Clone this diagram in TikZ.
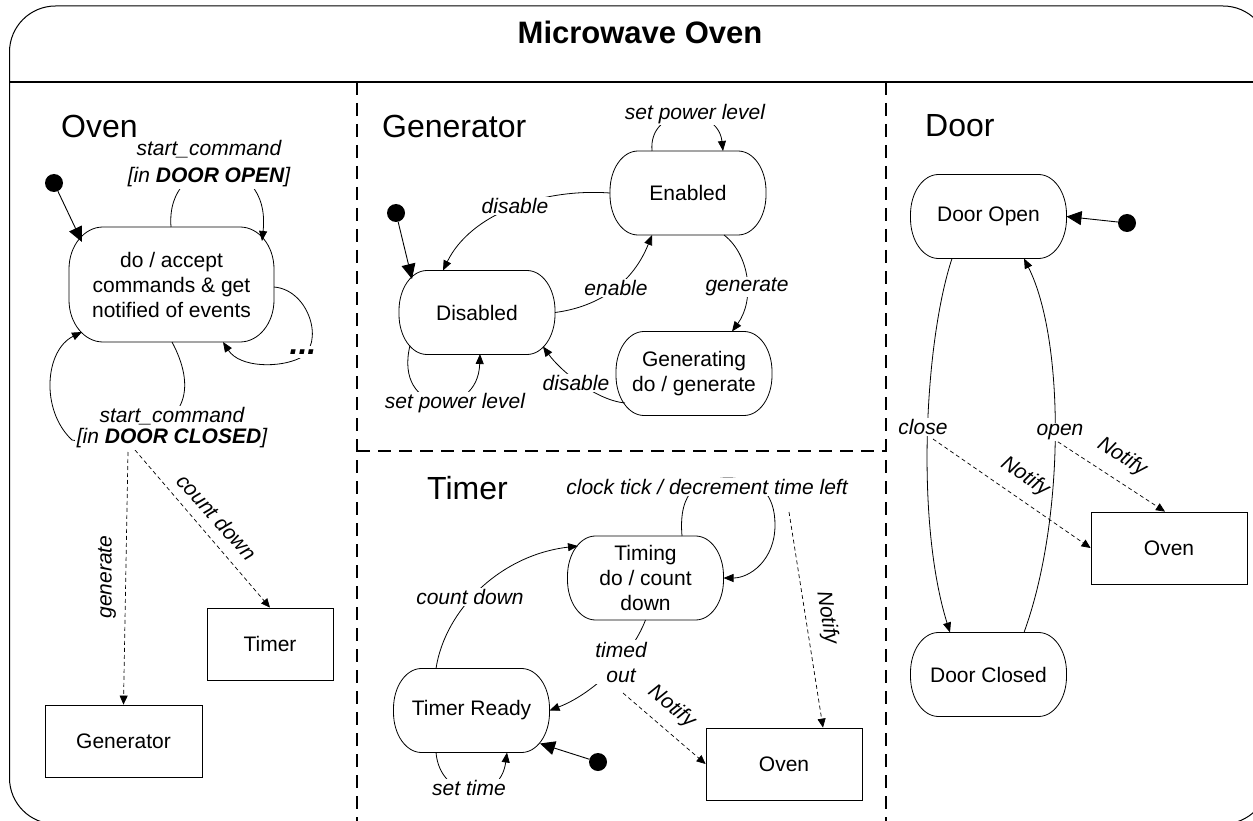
\documentclass[tikz,border=0pt]{standalone}
\usepackage{fontspec}
\setmainfont{Liberation Sans}
\usetikzlibrary{arrows.meta,calc}

% outline of a state: rectangle with elliptic corners (node, x radius, y radius)
\newcommand\capsule[3]{%
  \draw[stateline] ([xshift=#2]#1.north west) -- ([xshift=-#2]#1.north east)
    arc[start angle=90,end angle=0,x radius=#2,y radius=#3]
    -- ([yshift=#3]#1.south east)
    arc[start angle=0,end angle=-90,x radius=#2,y radius=#3]
    -- ([xshift=#2]#1.south west)
    arc[start angle=270,end angle=180,x radius=#2,y radius=#3]
    -- ([yshift=-#3]#1.north west)
    arc[start angle=180,end angle=90,x radius=#2,y radius=#3] -- cycle;}

\newcommand\txtfont{\fontsize{21}{25}\selectfont}

\tikzset{
  x=1pt, y=-1pt,
  stateline/.style={line width=0.8pt},
  stbox/.style={rectangle, minimum width=156pt, minimum height=84pt,
    inner sep=0pt, outer sep=0pt, align=center, font=\txtfont},
  objbox/.style={rectangle, draw, line width=0.8pt, minimum height=72pt,
    inner sep=0pt, font=\txtfont},
  initdot/.style={circle, fill=black, minimum size=18pt, inner sep=0pt},
  sectitle/.style={anchor=west, font=\fontsize{32}{36}\selectfont, inner sep=0pt},
  trans/.style={line width=0.8pt, -{Triangle[length=10pt,width=8pt]}},
  initarrow/.style={line width=0.9pt, -{Triangle[length=15pt,width=14pt]}},
  msg/.style={line width=0.7pt, dash pattern=on 4pt off 3pt,
    -{Triangle[length=9pt,width=8pt]}},
  lbl/.style={font=\txtfont\itshape, fill=white, inner sep=1.5pt, align=center},
  sepline/.style={line width=1.6pt, dash pattern=on 13pt off 8pt}
}

\begin{document}
\begin{tikzpicture}
\useasboundingbox (0,0) rectangle (1253,821);

% frame, header and region separators
\draw[line width=1pt, rounded corners=46pt] (9.5,6) rectangle (1269,824);
\draw[line width=1.2pt] (9.5,82) -- (1269,82);
\node[font=\fontsize{31}{36}\selectfont\bfseries] (title) at (640,32) {Microwave Oven};
\draw[sepline] (357,82) -- (357,824);
\draw[sepline] (886,82) -- (886,824);
\draw[sepline] (357,451) -- (886,451);

% region titles
\node[sectitle] (tOven) at (61,126) {Oven};
\node[sectitle] (tGen) at (382,126) {Generator};
\node[sectitle] (tTimer) at (427,488) {Timer};
\node[sectitle] (tDoor) at (925,126) {Door};

% states
\node[stbox, minimum width=205pt, minimum height=115pt] (ovst) at (171.5,284.5)
  {do / accept\\commands \& get\\notified of events};
\node[stbox] (en) at (688,193) {Enabled};
\node[stbox] (dis) at (477,312.5) {Disabled};
\node[stbox] (gen) at (694,373.5) {Generating\\do / generate};
\node[stbox] (tim) at (645.5,578) {Timing\\do / count\\down};
\node[stbox] (tr) at (471.5,710.5) {Timer Ready};
\node[stbox] (dop) at (988.5,216.5) {Door Open};
\node[stbox] (dcl) at (988.5,674.5) {Door Closed};
\capsule{ovst}{34pt}{42pt}
\capsule{en}{28pt}{40pt}
\capsule{dis}{28pt}{40pt}
\capsule{gen}{28pt}{40pt}
\capsule{tim}{28pt}{40pt}
\capsule{tr}{28pt}{40pt}
\capsule{dop}{28pt}{40pt}
\capsule{dcl}{28pt}{40pt}

% objects receiving messages
\node[objbox, minimum width=157pt] (gbox) at (123.5,741) {Generator};
\node[objbox, minimum width=126pt] (tbox) at (270,644) {Timer};
\node[objbox, minimum width=156pt] (ob1) at (784,764) {Oven};
\node[objbox, minimum width=156pt] (ob2) at (1169,548) {Oven};

% initial pseudo-states
\node[initdot] (i1) at (54,183) {};
\node[initdot] (i2) at (396,213) {};
\node[initdot] (i3) at (598,762) {};
\node[initdot] (i4) at (1127,223) {};

% message sources
\coordinate (gsrc) at (128,452);
\coordinate (csrc) at (135,450);
\coordinate (nsrc1) at (789,512);
\coordinate (nsrc2) at (623,693);
\coordinate (nsrc3) at (933,439);
\coordinate (nsrc4) at (1052,438);

% Oven transitions
\draw[initarrow] (i1) -- ($(ovst)+(-89.5,-42.5)$);
\draw[trans] ($(ovst)+(-0.5,-57.5)$) .. controls (165,150) and (272,150) .. ($(ovst)+(90.5,-43.5)$);
\draw[trans] ($(ovst)+(102.5,2.5)$) .. controls (310,290) and (325,345) .. (300,358)
  .. controls (280,368) and (240,368) .. ($(ovst)+(51.5,57.5)$);
\draw[trans] ($(ovst)+(0.5,57.5)$) .. controls (195,385) and (190,425) .. (130,435)
  .. controls (100,440) and (80,442) .. (72,440)
  .. controls (40,410) and (45,350) .. ($(ovst)+(-89.5,47.5)$);
\draw[msg] (gsrc) -- (gbox.north);
\draw[msg] (csrc) -- (tbox.north);

% Generator transitions
\draw[initarrow] (i2) -- ($(dis)+(-65,-33.5)$);
\draw[trans] ($(en.north)+(-36,0)$) .. controls (648,105) and (718,105) .. ($(en.north)+(35,0)$);
\draw[trans] (en.west) .. controls (540,188) and (470,215) .. ($(dis.north)+(-34,0)$);
\draw[trans] (dis.east) .. controls (590,308) and (630,290) .. ($(en.south)+(-36,0)$);
\draw[trans] ($(en.south)+(36,0)$) .. controls (750,255) and (755,300) .. ($(gen.north)+(38,0)$);
\draw[trans] ($(gen)+(-69,29.5)$) .. controls (595,400) and (560,370) .. ($(dis)+(66,34)$);
\draw[trans] ($(dis)+(-67,33)$) .. controls (393,415) and (478,420) .. ($(dis)+(3,41.5)$);

% Timer transitions
\draw[initarrow] (i3) -- ($(tr)+(68.5,33)$);
\draw[trans] ($(tim.north)+(36.5,0)$) .. controls (678,490) and (700,478) .. (728,478)
  .. controls (760,478) and (775,495) .. (775,525)
  .. controls (775,560) and (750,578) .. (tim.east);
\draw[msg] (nsrc1) -- ($(ob1.north)+(39,0)$);
\draw[trans] ($(tr.north)+(-35.5,0)$) .. controls (445,610) and (500,555) .. ($(tim)+(-67.5,-32)$);
\draw[trans] (tim.south) .. controls (630,660) and (590,695) .. (tr.east);
\draw[msg] (nsrc2) -- (ob1.west);
\draw[trans] ($(tr.south)+(-35.5,0)$) .. controls (440,800) and (500,805) .. ($(tr.south)+(35.5,0)$);

% Door transitions
\draw[initarrow] (i4) -- (dop.east);
\draw[trans] ($(dop.south)+(-36.5,0)$) .. controls (925,340) and (915,520) .. ($(dcl.north)+(-38.5,0)$);
\draw[trans] ($(dcl.north)+(35.5,0)$) .. controls (1065,520) and (1065,340) .. ($(dop.south)+(35.5,0)$);
\draw[msg] (nsrc3) -- (ob2.west);
\draw[msg] (nsrc4) -- ($(ob2.north)+(-4,0)$);

% transition labels
\node[lbl, font=\fontsize{21}{27}\selectfont\itshape] (lOpenCmd) at (209,164)
  {start\_command\\{}[in \textbf{DOOR OPEN}]};
\node[lbl, font=\fontsize{32}{32}\selectfont\bfseries\itshape, inner sep=4pt] (lMore) at (303,352) {...};
\node[lbl, font=\fontsize{21}{21}\selectfont\itshape] (lClosedCmd) at (172,428)
  {start\_command\\{}[in \textbf{DOOR CLOSED}]};
\node[lbl, fill=none, rotate=90] (lGenerate) at (107,577) {generate};
\node[lbl, fill=none, rotate=-48] (lCount) at (217,517) {count down};

\node[lbl] (lSetEn) at (695,114) {set power level};
\node[lbl] (lDis1) at (515,206) {disable};
\node[lbl] (lEnable) at (616,288) {enable};
\node[lbl] (lGen) at (747,287) {generate};
\node[lbl] (lDis2) at (576,383) {disable};
\node[lbl] (lSetDis) at (455,403) {set power level};

\node[lbl] (lTick) at (707,487) {clock tick / decrement time left};
\node[lbl, fill=none, rotate=-81] (lNot1) at (827,618) {Notify};
\node[lbl] (lCountT) at (470,597) {count down};
\node[lbl] (lTimed) at (621,662) {timed\\out};
\node[lbl, fill=none, rotate=-40] (lNot2) at (672,707) {Notify};
\node[lbl] (lSetTime) at (469,788) {set time};

\node[lbl] (lClose) at (923,427) {close};
\node[lbl] (lOpen) at (1060,432) {open};
\node[lbl, fill=none, rotate=-34.5] (lNot3) at (1025,477) {Notify};
\node[lbl, fill=none, rotate=-32.5] (lNot4) at (1122,457) {Notify};
\end{tikzpicture}
\end{document}
